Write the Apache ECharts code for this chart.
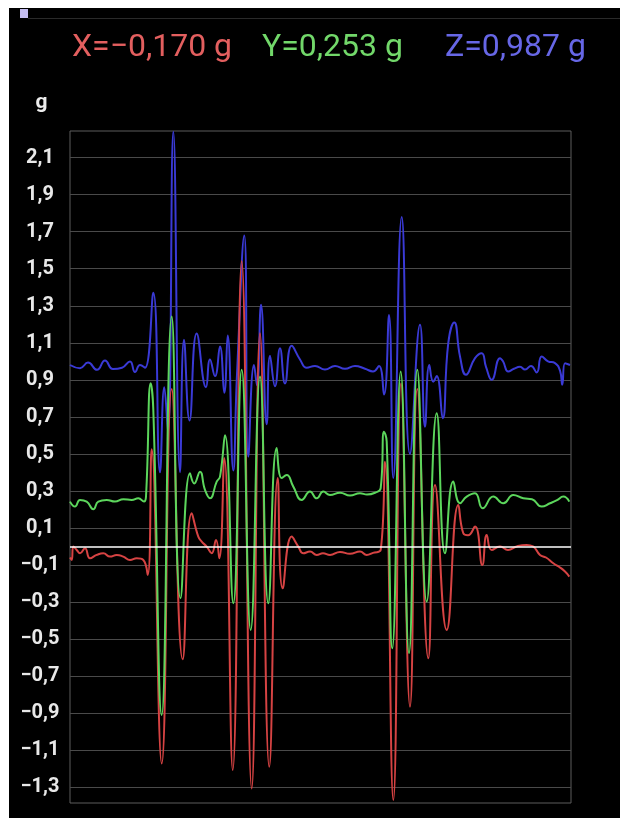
<!DOCTYPE html>
<html>
<head>
<meta charset="utf-8">
<script src="https://cdn.jsdelivr.net/npm/echarts@6/dist/echarts.min.js"></script>
<style>
html,body{margin:0;padding:0;background:#ffffff;}
#bg{position:absolute;left:9px;top:8px;width:611px;height:810px;background:#000;}
#chart{position:absolute;left:0;top:0;width:620px;height:818px;}
</style>
</head>
<body>
<div id="bg"></div>
<div id="chart"></div>
<script>
// Readouts
const readoutLabels = ['X=\u22120,170 g', 'Y=0,253 g', 'Z=0,987 g'];
const unitLabel = 'g';
// Y tick values (g)
const yTicks = [-1.3, -1.1, -0.9, -0.7, -0.5, -0.3, -0.1, 0.1, 0.3, 0.5, 0.7, 0.9, 1.1, 1.3, 1.5, 1.7, 1.9, 2.1];
const yMin = -1.386, yMax = 2.244;
const sampleMax = 501;

// Z axis (blue): [sample, g]
const zData = [
[0,0.98],[10,0.963],[18,0.993],[27,0.954],[35,1.004],[43,0.958],[52,0.965],[60,0.999],[65,0.942],[70,0.98],[75,0.965],
[83.3,1.37],[90,0.40],[94.3,0.86],[98,0.62],[103.3,2.24],[110,0.40],[114,1.116],[119.5,0.68],[126.7,1.15],[136,0.86],
[140,1.01],[145,0.92],[150,1.08],[154.3,0.83],[157.7,1.14],[163.3,0.41],[167,0.93],[174.3,1.68],[178.3,0.485],[184,0.98],
[187,0.87],[191,1.305],[196.7,0.66],[200,1.03],[205,0.865],[210,1.07],[215,0.88],[221.7,1.084],[230,1.01],[236.7,0.965],
[245,0.975],[255,0.955],[265,0.975],[275,0.96],[285,0.975],[295,0.96],[303,0.945],[309,0.975],[314,0.82],[319,1.25],
[323.3,0.37],[331.7,1.78],[340,0.50],[350,1.197],[355,0.647],[359.3,0.98],[363.3,0.89],[366.7,0.92],[372.7,0.693],
[378.3,1.10],[384.3,1.21],[390,1.026],[396,0.927],[405,1.017],[411.7,1.044],[416,0.97],[421.7,0.90],[430,1.017],[433,1.0],
[438.3,0.945],[444,0.96],[450,0.97],[455,0.955],[461,0.975],[466.7,0.94],[471.7,1.026],[478,1.0],[485,0.99],[490,0.95],
[492.3,0.873],[495,0.99],[500,0.98]
];

// X axis (red): [sample, g]
const xData = [
[0,-0.06],[1.7,-0.073],[3.3,-0.001],[6.7,-0.019],[10,-0.037],[15,-0.01],[20,-0.064],[26.7,-0.046],[33.3,-0.037],[40,-0.055],
[46.7,-0.046],[53.3,-0.055],[60,-0.073],[66.7,-0.064],[73.3,-0.073],[77.7,-0.154],[81.7,0.525],[91.7,-1.172],[101.7,0.85],
[112.7,-0.61],[121.7,0.179],[128.3,0.053],[131.7,0.026],[136.7,-0.001],[141.7,-0.037],[146,0.035],[149.3,-0.064],[154.3,0.477],
[162.7,-1.208],[171.7,1.54],[181.7,-1.307],[190,1.152],[199.3,-1.19],[207.7,0.369],[212.7,-0.226],[221.7,0.053],[228.3,-0.001],
[233.3,-0.037],[240,-0.028],[246.7,-0.046],[253,-0.037],[260,-0.046],[270,-0.03],[280,-0.04],[290,-0.028],[296.7,-0.046],
[303,-0.035],[310.7,-0.019],[315,0.458],[323.3,-1.37],[331,0.88],[340,-0.866],[347.3,0.85],[358.3,-0.604],[365,0.332],
[376.7,-0.451],[388.3,0.224],[393.3,0.071],[398,0.06],[405,0.107],[412.3,-0.10],[416.7,0.062],[421.7,-0.019],[430,-0.001],
[438,-0.019],[446.7,0.0],[456.7,0.008],[463,0.0],[470,-0.046],[476,-0.06],[483.3,-0.091],[489,-0.11],[495,-0.136],[499.3,-0.163]
];

// Y axis (green): [sample, g]
const yData = [
[0,0.242],[5,0.215],[10,0.251],[16.7,0.242],[23.3,0.201],[28.3,0.242],[36.7,0.251],[45,0.242],[53.3,0.255],[61.7,0.251],
[68.3,0.26],[74,0.242],[76,0.27],[80.7,0.882],[83.3,0.74],[91.7,-0.91],[101.7,1.242],[110.5,-0.28],[120,0.395],[124.3,0.34],
[130,0.404],[135,0.305],[140,0.26],[146.7,0.35],[150,0.377],[155,0.60],[163.3,-0.307],[171.7,0.954],[180.7,-0.451],[190,0.918],
[198.3,-0.307],[206.7,0.531],[211.7,0.369],[216.7,0.386],[223.3,0.323],[231.7,0.251],[240,0.296],[246.7,0.26],[253.3,0.296],
[260,0.278],[270,0.29],[280,0.275],[290,0.287],[297,0.28],[305,0.29],[310.7,0.315],[314,0.62],[316.7,0.567],[322.3,-0.55],
[330.7,0.945],[339,-0.577],[347.3,0.954],[356.7,-0.298],[366.7,0.72],[375,-0.037],[383.3,0.35],[390,0.233],[396.7,0.269],
[405,0.287],[412.7,0.206],[423.3,0.269],[433.3,0.233],[443.3,0.278],[453.3,0.26],[462,0.255],[471.7,0.215],[480,0.233],
[487,0.25],[493.3,0.269],[499.3,0.242]
];

const fmt = v => (Math.round(v * 10) / 10).toFixed(1).replace('.', ',').replace('-', '\u2212');

const chart = echarts.init(document.getElementById('chart'), null, {renderer: 'canvas'});
const lineSeries = (name, data, color, extra) => Object.assign({
  name, type: 'line', data, smooth: 0.5, symbol: 'none',
  lineStyle: {color, width: 2}, itemStyle: {color}, animation: false, clip: true
}, extra || {});

chart.setOption({
  backgroundColor: 'transparent',
  animation: false,
  title: [
    {text: readoutLabels[0], left: 72, top: 32, padding: 0, textStyle: {color: '#e35f5f', fontSize: 32, fontWeight: 'normal', fontFamily: 'Roboto'}},
    {text: readoutLabels[1], left: 262, top: 32, padding: 0, textStyle: {color: '#72d86a', fontSize: 32, fontWeight: 'normal', fontFamily: 'Roboto'}},
    {text: readoutLabels[2], left: 445, top: 32, padding: 0, textStyle: {color: '#6767e6', fontSize: 32, fontWeight: 'normal', fontFamily: 'Roboto'}}
  ],
  graphic: [
    {type: 'rect', shape: {x: 20, y: 9, width: 8, height: 9}, style: {fill: '#c4bdf0'}, silent: true},
    {type: 'line', shape: {x1: 28, y1: 18.5, x2: 620, y2: 18.5}, style: {stroke: '#2a2a2a', lineWidth: 1}, silent: true},
    {type: 'text', x: 41.5, y: 103, style: {text: unitLabel, fill: '#ececec', font: 'bold 21px Roboto', textAlign: 'center', textVerticalAlign: 'middle'}, silent: true}
  ],
  grid: {left: 70, right: 49, top: 131, bottom: 15, show: true, borderColor: '#5c5c5c', borderWidth: 1, backgroundColor: 'transparent'},
  xAxis: {
    type: 'value', min: 0, max: sampleMax,
    axisLine: {show: false}, axisTick: {show: false}, axisLabel: {show: false}, splitLine: {show: false}
  },
  yAxis: {
    type: 'value', min: yMin, max: yMax,
    axisLine: {show: false},
    axisTick: {show: false, customValues: yTicks},
    axisLabel: {customValues: yTicks, formatter: fmt, color: '#e8e8e8', fontSize: 20, fontWeight: 'bold', fontFamily: 'Roboto', align: 'center', margin: 30},
    splitLine: {show: true, lineStyle: {color: '#4a4a4a', width: 1}}
  },
  series: [
    lineSeries('Z', zData, '#3a3ad6', {z: 2}),
    lineSeries('X', xData, '#d64343', {z: 3,
      markLine: {silent: true, symbol: 'none', label: {show: false}, lineStyle: {color: '#ffffff', width: 1.6, type: 'solid'}, data: [{yAxis: 0}], animation: false}}),
    lineSeries('Y', yData, '#5cd65c', {z: 4})
  ]
});
</script>
</body>
</html>
